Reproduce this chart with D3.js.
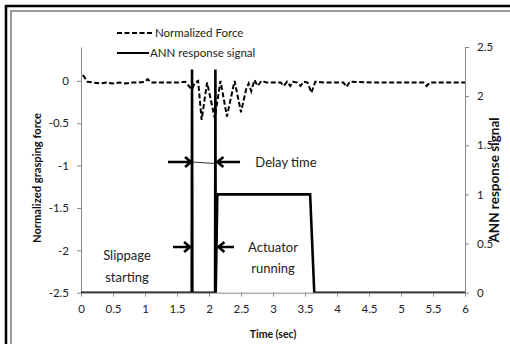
<!DOCTYPE html>
<html>
<head>
<meta charset="utf-8">
<script src="https://d3js.org/d3.v7.min.js"></script>
<style>
  * { margin: 0; padding: 0; }
  body { background: #fff; width: 510px; height: 344px; overflow: hidden; font-family: Lato, 'Open Sans', sans-serif; }
  svg { display: block; }
  .tick text { fill: #222; }
</style>
</head>
<body>
<div id="chart"></div>
<script>
// Normalized grasping force (left axis)
const forceTime = [0.03, 0.1, 0.2, 0.3, 0.4, 0.5, 0.6, 0.7, 0.8, 0.9, 1.0, 1.04, 1.1, 1.2, 1.3, 1.4, 1.5, 1.63,
  1.73, 1.78, 1.83, 1.885, 1.97, 2.09, 2.18, 2.28, 2.4, 2.5, 2.58, 2.62, 2.66, 2.71, 2.76, 2.82, 2.9,
  3.0, 3.12, 3.17, 3.22, 3.27, 3.31, 3.38, 3.43, 3.48, 3.54, 3.6, 3.66, 3.8, 4.1, 4.15, 4.2, 4.6,
  5.35, 5.4, 5.45, 6.0];
const forceValue = [0.07, -0.01, -0.02, -0.03, -0.02, -0.03, -0.02, -0.03, -0.02, -0.02, -0.01, 0.02, -0.02, -0.02, -0.02, -0.02, -0.02, -0.01,
  -0.1, -0.02, 0.0, -0.46, -0.02, -0.44, 0.0, -0.42, 0.0, -0.37, -0.1, -0.03, -0.12, 0.01, -0.06, 0.0, -0.02,
  -0.02, -0.02, -0.06, -0.01, -0.06, -0.01, -0.02, -0.06, -0.01, -0.02, -0.14, -0.01, -0.02, -0.02, -0.07, -0.01, -0.02,
  -0.02, -0.06, -0.02, -0.02];

// ANN response signal (right axis)
const annTime = [0, 1.73, 1.735, 1.74, 2.095, 2.10, 2.105, 2.13, 3.58, 3.645, 6];
const annValue = [0, 0, 2.27, 0, 0, 2.27, 0, 1, 1, 0, 0];

const xTicks = [0, 0.5, 1, 1.5, 2, 2.5, 3, 3.5, 4, 4.5, 5, 5.5, 6];
const leftTicks = [0, -0.5, -1, -1.5, -2, -2.5];
const rightTicks = [0, 0.5, 1, 1.5, 2, 2.5];

const W = 510, H = 344;
const svg = d3.select("#chart").append("svg").attr("width", W).attr("height", H);

// double frame (cropped at right and bottom)
svg.append("rect").attr("x", 6).attr("y", 6).attr("width", 540).attr("height", 380)
  .attr("fill", "none").attr("stroke", "#000").attr("stroke-width", 2.5);
svg.append("rect").attr("x", 11).attr("y", 11).attr("width", 530).attr("height", 370)
  .attr("fill", "none").attr("stroke", "#666").attr("stroke-width", 1.3);

const x = d3.scaleLinear().domain([0, 6]).range([81, 465]);
const yL = d3.scaleLinear().domain([-2.5, 0.4]).range([292.7, 47]);
const yR = d3.scaleLinear().domain([0, 2.5]).range([292.7, 47]);

svg.append("clipPath").attr("id", "plot")
  .append("rect").attr("x", 60).attr("y", 30).attr("width", 420).attr("height", 262.7);

const fmt = d => String(d);

const gx = svg.append("g").attr("transform", "translate(0,292.7)")
  .call(d3.axisBottom(x).tickValues(xTicks).tickFormat(fmt).tickSizeInner(4).tickSizeOuter(0).tickPadding(8));
const gl = svg.append("g").attr("transform", "translate(81,0)")
  .call(d3.axisLeft(yL).tickValues(leftTicks).tickFormat(fmt).tickSizeInner(4).tickSizeOuter(0).tickPadding(8));
const gr = svg.append("g").attr("transform", "translate(465,0)")
  .call(d3.axisRight(yR).tickValues(rightTicks).tickFormat(fmt).tickSizeInner(4).tickSizeOuter(0).tickPadding(8));

[gx, gl, gr].forEach(g => {
  g.select(".domain").attr("stroke", "#888").attr("stroke-width", 1);
  g.selectAll(".tick line").attr("stroke", "#888");
  g.selectAll(".tick text").attr("font-family", "Lato, sans-serif").attr("font-size", 11.5).attr("fill", "#222");
});

// axis titles
svg.append("text").attr("x", 273).attr("y", 338).attr("text-anchor", "middle")
  .attr("font-size", 10.5).attr("font-weight", "bold").attr("fill", "#111").text("Time (sec)");
svg.append("text").attr("transform", "translate(41,178) rotate(-90)").attr("text-anchor", "middle")
  .attr("font-size", 11.2).attr("font-weight", "bold").attr("fill", "#111").text("Normalized grasping force");
svg.append("text").attr("transform", "translate(499,180) rotate(-90)").attr("text-anchor", "middle")
  .attr("font-size", 13.5).attr("font-weight", "bold").attr("fill", "#111").text("ANN response signal");

// series
const forceLine = d3.line().x((d, i) => x(forceTime[i])).y(d => yL(d));
svg.append("path").datum(forceValue).attr("d", forceLine)
  .attr("fill", "none").attr("stroke", "#000").attr("stroke-width", 2).attr("stroke-dasharray", "5,2.5");

const annLine = d3.line().x((d, i) => x(annTime[i])).y(d => yR(d));
svg.append("path").datum(annValue).attr("d", annLine).attr("clip-path", "url(#plot)")
  .attr("fill", "none").attr("stroke", "#000").attr("stroke-width", 2.6).attr("stroke-linejoin", "miter");

// legend
const legend = svg.append("g");
legend.append("line").attr("x1", 117).attr("x2", 154).attr("y1", 33).attr("y2", 33)
  .attr("stroke", "#000").attr("stroke-width", 2).attr("stroke-dasharray", "5,2.5");
legend.append("text").attr("x", 155).attr("y", 37).attr("font-size", 11.5).attr("fill", "#222").text("Normalized Force");
legend.append("line").attr("x1", 117).attr("x2", 149).attr("y1", 53).attr("y2", 53)
  .attr("stroke", "#000").attr("stroke-width", 2);
legend.append("text").attr("x", 150).attr("y", 57).attr("font-size", 11.5).attr("fill", "#222").text("ANN response signal");

// annotations
function arrow(x1, x2, y) {
  const dir = x2 > x1 ? 1 : -1;
  svg.append("path")
    .attr("d", `M${x1},${y}L${x2},${y}M${x2 - dir * 6},${y - 5}L${x2},${y}L${x2 - dir * 6},${y + 5}`)
    .attr("fill", "none").attr("stroke", "#000").attr("stroke-width", 2.6);
}
const t1 = x(1.735), t2 = x(2.1);
arrow(168, t1 - 1, 162);
arrow(240, t2 + 2, 162);
svg.append("line").attr("x1", t1).attr("x2", t2).attr("y1", 162).attr("y2", 163.5)
  .attr("stroke", "#000").attr("stroke-width", 0.8);
arrow(173, t1 - 2, 247);
arrow(234, t2 + 3, 247);

const note = (tx, ty, s) => svg.append("text").attr("x", tx).attr("y", ty).attr("text-anchor", "middle")
  .attr("font-size", 13).attr("fill", "#222").text(s);
note(286, 167, "Delay time");
note(273, 252, "Actuator");
note(273, 273, "running");
note(127, 260, "Slippage");
note(127, 282, "starting");
</script>
</body>
</html>
